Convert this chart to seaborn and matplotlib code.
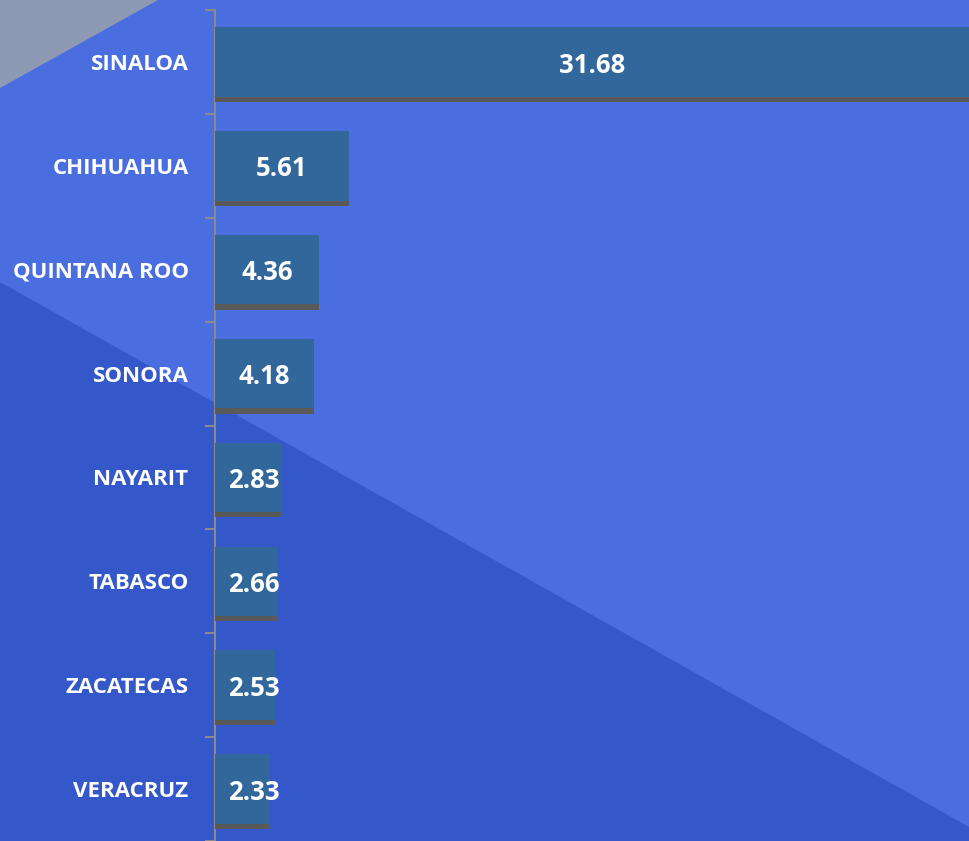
import matplotlib
matplotlib.use("Agg")
import matplotlib.pyplot as plt
import seaborn as sns
import pandas as pd
from matplotlib.patches import Polygon, Rectangle

estados = ["SINALOA", "CHIHUAHUA", "QUINTANA ROO", "SONORA",
           "NAYARIT", "TABASCO", "ZACATECAS", "VERACRUZ"]
valores = [31.68, 5.61, 4.36, 4.18, 2.83, 2.66, 2.53, 2.33]

bg_light = "#4a6ee0"
bg_dark = "#3457c9"
bg_gray = "#8e9ab3"
bar_col = "#31679a"
shadow_col = "#595959"

sns.set_theme(style="white")
plt.rcParams['font.family'] = ['Open Sans', 'DejaVu Sans']

df = pd.DataFrame({"estado": estados, "valor": valores})

fig = plt.figure(figsize=(9.69, 8.41), dpi=100)
fig.patch.set_facecolor(bg_light)

# background shapes on a full-figure axes behind the chart
bg = fig.add_axes([0, 0, 1, 1], zorder=-1)
bg.set_xlim(0, 1)
bg.set_ylim(0, 1)
bg.axis("off")
bg.add_patch(Polygon([(0, 1), (158/969, 1), (0, 1 - 88/841)],
                     closed=True, facecolor=bg_gray, edgecolor="none"))
bg.add_patch(Polygon([(0, 1 - 282/841), (1, 1 - 827/841), (1, 0), (0, 0)],
                     closed=True, facecolor=bg_dark, edgecolor="none"))

ax = fig.add_axes([215/969, 0, 1 - 215/969, 1 - 10/841])
ax.set_facecolor("none")

sns.barplot(data=df, x="valor", y="estado", orient="h", color=bar_col,
            width=0.67, saturation=1, linewidth=0, ax=ax, zorder=3)

# darker strip under every bar
for p in ax.patches[:]:
    ax.add_patch(Rectangle((p.get_x(), p.get_y() + p.get_height()),
                           p.get_width(), 0.05, facecolor=shadow_col,
                           edgecolor="none", zorder=3))

xmax = max(valores)
for i, v in enumerate(valores):
    ax.text(max(v / 2, 1.64), i + 0.03, f"{v:.2f}", ha="center", va="center",
            color="white", fontsize=18.5, fontweight="bold", zorder=4)

ax.set_xlim(0, xmax)
ax.set_ylim(len(estados) - 0.5, -0.5)
ax.set_xlabel("")
ax.set_ylabel("")
ax.set_xticks([])

for s in ["top", "right", "bottom"]:
    ax.spines[s].set_visible(False)
ax.spines["left"].set_color("#8a8a8a")
ax.spines["left"].set_linewidth(1.5)

ax.set_yticks([i - 0.5 for i in range(len(estados) + 1)], minor=True)
ax.tick_params(axis="y", which="minor", length=7, width=1.5, color="#8a8a8a", left=True)
ax.tick_params(axis="y", which="major", length=0, pad=19, labelsize=16,
               labelcolor="white")
for lab in ax.get_yticklabels():
    lab.set_fontweight("bold")

fig.savefig("out.png", dpi=100, facecolor=fig.get_facecolor())
